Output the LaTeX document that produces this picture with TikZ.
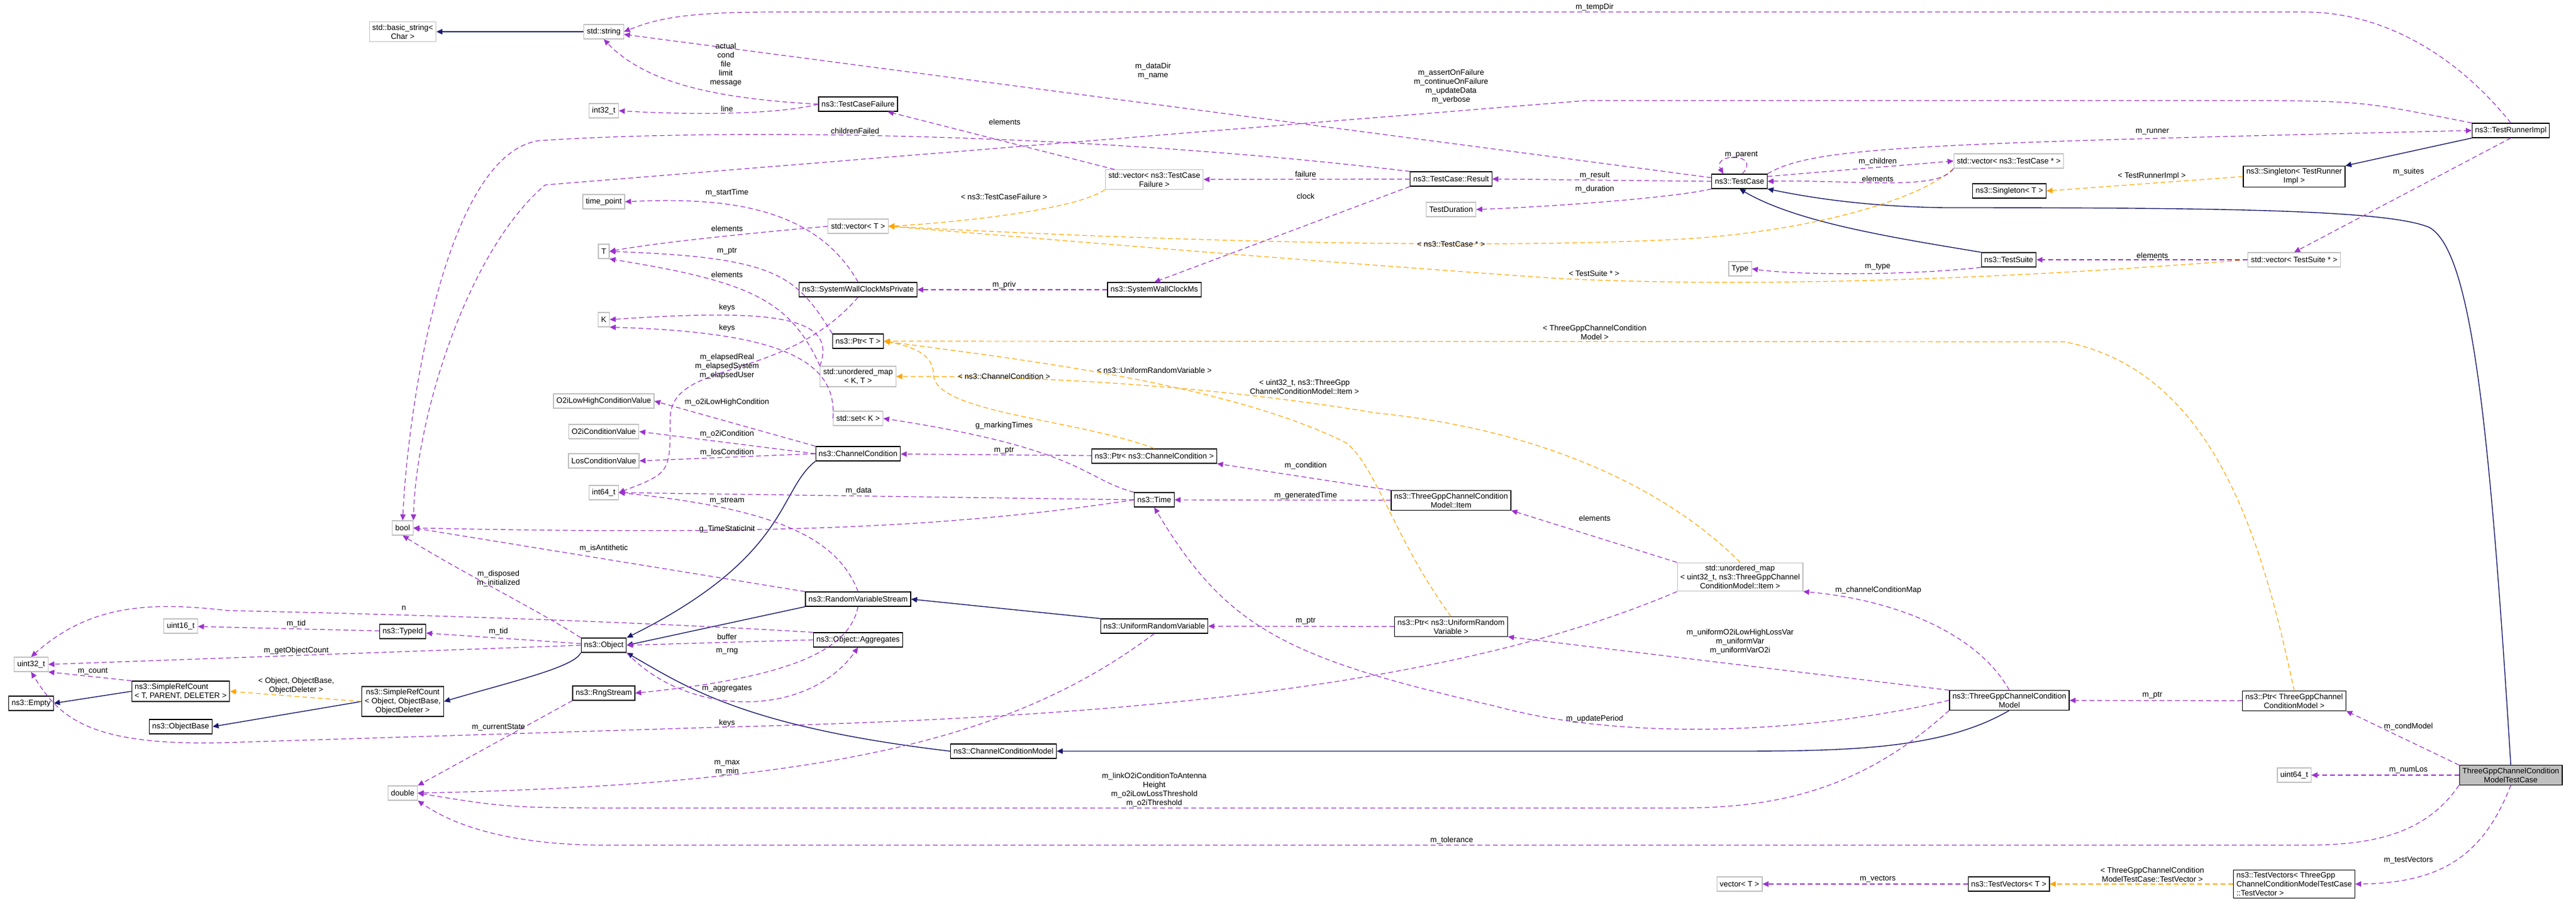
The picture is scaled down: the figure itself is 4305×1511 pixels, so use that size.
\documentclass[tikz,border=0pt]{standalone}
\usepackage{fontspec}
\setmainfont{Liberation Sans}
\usetikzlibrary{arrows.meta}
\definecolor{mem}{HTML}{9A32CD}
\definecolor{tpl}{HTML}{FFA500}
\definecolor{inh}{HTML}{191970}
\definecolor{ext}{HTML}{BFBFBF}
\begin{document}
\begin{tikzpicture}[x=0.5pt,y=-0.5pt,
  font=\fontsize{6.5}{7.5}\selectfont,
  cls/.style={draw=black,line width=0.6pt,fill=white,inner xsep=2.5pt,inner ysep=2pt,minimum height=12pt,align=center},
  extn/.style={cls,draw=ext},
  mainc/.style={cls,fill=ext},
  memb/.style={draw=mem,line width=0.6pt,dash pattern=on 4pt off 2.5pt,-{Triangle[length=5pt,width=4.5pt]}},
  tmpl/.style={draw=tpl,line width=0.6pt,dash pattern=on 4pt off 2.5pt,-{Triangle[length=5pt,width=4.5pt]}},
  inhr/.style={draw=inh,line width=0.7pt,-{Triangle[length=5pt,width=4.5pt]}},
  lbl/.style={inner sep=0pt,align=center}]
\useasboundingbox (0,0) rectangle (4305,1511);
% nodes
\node[extn] (bstr) at (673,53) {std::basic\_string\textless\\Char \textgreater};
\node[extn] (str) at (1009,53) {std::string};
\node[extn] (i32) at (1009,185) {int32\_t};
\node[cls] (tcf) at (1434,174) {ns3::TestCaseFailure};
\node[extn] (tp) at (1009,337) {time\_point};
\node[extn] (T) at (1009,420) {T};
\node[extn] (K) at (1009,534) {K};
\node[cls] (swcmp) at (1434,484) {ns3::SystemWallClockMsPrivate};
\node[cls] (ptrT) at (1434,570) {ns3::Ptr\textless{} T \textgreater};
\node[extn] (umapKT) at (1434,629) {std::unordered\_map\\\textless{} K, T \textgreater};
\node[extn] (setK) at (1434,699) {std::set\textless{} K \textgreater};
\node[extn] (o2ilh) at (1009,670) {O2iLowHighConditionValue};
\node[extn] (o2i) at (1009,721) {O2iConditionValue};
\node[extn] (los) at (1009,770) {LosConditionValue};
\node[cls] (cc) at (1434,758) {ns3::ChannelCondition};
\node[extn] (i64) at (1009,823) {int64\_t};
\node[extn] (bool) at (673,882) {bool};
\node[cls] (rvs) at (1434,1001) {ns3::RandomVariableStream};
\node[cls] (agg) at (1434,1069) {ns3::Object::Aggregates};
\node[cls] (obj) at (1009,1078) {ns3::Object};
\node[extn] (u16) at (302,1046) {uint16\_t};
\node[cls] (tid) at (673,1055) {ns3::TypeId};
\node[extn] (u32) at (52,1110) {uint32\_t};
\node[cls,align=left] (srct) at (302,1155) {ns3::SimpleRefCount\\\textless{} T, PARENT, DELETER \textgreater};
\node[cls] (empty) at (52,1175) {ns3::Empty};
\node[cls] (srco) at (673,1172) {ns3::SimpleRefCount\\\textless{} Object, ObjectBase,\\ObjectDeleter \textgreater};
\node[cls] (obase) at (302,1214) {ns3::ObjectBase};
\node[cls] (rng) at (1009,1158) {ns3::RngStream};
\node[extn] (dbl) at (673,1325) {double};
\node[cls] (ptrcc) at (1929,762) {ns3::Ptr\textless{} ns3::ChannelCondition \textgreater};
\node[cls] (time) at (1929,835) {ns3::Time};
\node[cls] (item) at (2425,836) {ns3::ThreeGppChannelCondition\\Model::Item};
\node[cls] (urv) at (1929,1046) {ns3::UniformRandomVariable};
\node[cls] (ptrurv) at (2425,1047) {ns3::Ptr\textless{} ns3::UniformRandom\\Variable \textgreater};
\node[cls] (ccmod) at (1677,1255) {ns3::ChannelConditionModel};
\node[extn] (umapU) at (2908,964) {std::unordered\_map\\\textless{} uint32\_t, ns3::ThreeGppChannel\\ConditionModel::Item \textgreater};
\node[extn] (vtcf) at (1929,300) {std::vector\textless{} ns3::TestCase\\Failure \textgreater};
\node[extn] (vecT) at (1434,378) {std::vector\textless{} T \textgreater};
\node[cls] (res) at (2425,299) {ns3::TestCase::Result};
\node[extn] (tdur) at (2425,350) {TestDuration};
\node[cls] (swcm) at (1929,484) {ns3::SystemWallClockMs};
\node[cls] (tc) at (2907,303) {ns3::TestCase};
\node[extn] (vtc) at (3357,269) {std::vector\textless{} ns3::TestCase * \textgreater};
\node[cls] (tri) at (4196,218) {ns3::TestRunnerImpl};
\node[cls] (sgtri) at (3834,295) {ns3::Singleton\textless{} TestRunner\\Impl \textgreater};
\node[cls] (sgT) at (3358,319) {ns3::Singleton\textless{} T \textgreater};
\node[extn] (type) at (2908,449) {Type};
\node[cls] (ts) at (3357,434) {ns3::TestSuite};
\node[extn] (vts) at (3834,434) {std::vector\textless{} TestSuite * \textgreater};
\node[cls] (ccm) at (3358,1170) {ns3::ThreeGppChannelCondition\\Model};
\node[cls] (ptr3) at (3834,1171) {ns3::Ptr\textless{} ThreeGppChannel\\ConditionModel \textgreater};
\node[mainc] (tctc) at (4196,1295) {ThreeGppChannelCondition\\ModelTestCase};
\node[extn] (u64) at (3834,1295) {uint64\_t};
\node[extn] (vecT2) at (2907,1477) {vector\textless{} T \textgreater};
\node[cls] (tvT) at (3357,1477) {ns3::TestVectors\textless{} T \textgreater};
\node[cls,align=left] (tv3) at (3834,1477) {ns3::TestVectors\textless{} ThreeGpp\\ChannelConditionModelTestCase\\::TestVector \textgreater};

% inheritance
\draw[inhr] (str) -- (bstr);
\draw[inhr] (cc.south west) .. controls (1300,820) and (1320,930) .. (obj.north east);
\draw[inhr] (rvs.south west) -- (obj.east);
\draw[inhr] (obj.south west) .. controls (960,1115) and (850,1140) .. (srco.east);
\draw[inhr] (srco.west) -- (obase.east);
\draw[inhr] (srct.west) -- (empty.east);
\draw[inhr] (ccmod.west) .. controls (1250,1215) and (1150,1150) .. (obj.south east);
\draw[inhr] (urv.north west) -- (rvs.east);
\draw[inhr] (ccm.south) .. controls (3250,1250) and (3100,1255) .. (2900,1255) -- (ccmod.east);
\draw[inhr] (tri.south west) -- (sgtri.north east);
\draw[inhr] (ts.north west) .. controls (3150,395) and (3000,370) .. (tc.south);
\draw[inhr] (tctc.north) .. controls (4160,700) and (4130,420) .. (4060,380) .. controls (3990,350) and (3700,347) .. (3250,347) .. controls (3100,345) and (3000,325) .. (tc.south east);

% template
\draw[tmpl] (srco.west) -- (srct.east);
\draw[tmpl] (vtcf.south west) .. controls (1800,350) and (1600,372) .. (vecT.east);
\draw[tmpl] (vtc.south west) .. controls (3200,340) and (3000,390) .. (2800,400) .. controls (2400,420) and (1800,395) .. (vecT.east);
\draw[tmpl] (vts.west) .. controls (3300,470) and (2900,480) .. (2600,465) .. controls (2100,430) and (1700,395) .. (vecT.east);
\draw[tmpl] (sgtri.west) -- (sgT.east);
\draw[tmpl] (ptrcc.north) .. controls (1800,700) and (1560,690) .. (1560,625) .. controls (1560,590) and (1520,578) .. (ptrT.east);
\draw[tmpl] (ptrurv.north) .. controls (2330,900) and (2300,780) .. (2250,740) .. controls (2050,640) and (1700,600) .. (ptrT.east);
\draw[tmpl] (ptr3.north) .. controls (3780,900) and (3700,620) .. (3450,571) -- (ptrT.east);
\draw[tmpl] (umapU.north) .. controls (2800,830) and (2600,720) .. (2300,690) .. controls (2000,640) and (1700,628) .. (umapKT.east);
\draw[tmpl] (tv3.west) -- (tvT.east);

% members
\draw[memb] (tri.north) .. controls (4120,110) and (4000,20) .. (3850,20) -- (1300,20) .. controls (1150,20) and (1100,30) .. (str.east);
\draw[memb] (tc) -- (str);
\draw[memb] (tcf.west) .. controls (1200,165) and (1080,140) .. (str.south);
\draw[memb] (tcf.west) .. controls (1300,192) and (1150,192) .. (i32.east);
\draw[memb] (res.north west) .. controls (1800,220) and (1200,215) .. (900,235) .. controls (740,260) and (680,700) .. (bool.north);
\draw[memb] (tri.north west) .. controls (3950,170) .. (3800,168) -- (2650,168) -- (911,309) .. controls (780,420) and (695,700) .. (bool.north east);
\draw[memb] (vtcf) -- (tcf);
\draw[memb] (swcmp.north) .. controls (1360,340) and (1200,330) .. (tp.east);
\draw[memb] (vecT.west) .. controls (1250,390) and (1100,405) .. (T.east);
\draw[memb] (ptrT.north west) .. controls (1330,460) and (1300,430) .. (T.east);
\draw[memb] (umapKT.north west) .. controls (1320,500) and (1250,470) .. (T.south east);
\draw[memb] (umapKT.north west) .. controls (1400,530) and (1300,515) .. (K.east);
\draw[memb] (setK.west) .. controls (1400,600) and (1300,555) .. (K.south east);
\draw[memb] (swcmp.south) .. controls (1310,640) and (1120,600) .. (1120,700) .. controls (1120,790) .. (i64.east);
\draw[memb] (cc.north west) -- (o2ilh.east);
\draw[memb] (cc.west) -- (o2i.east);
\draw[memb] (cc.west) -- (los.east);
\draw[memb] (time.west) -- (i64.east);
\draw[memb] (rvs.north) .. controls (1400,900) and (1300,850) .. (i64.east);
\draw[memb] (time.west) .. controls (1600,880) and (1300,895) .. (bool.east);
\draw[memb] (rvs.north west) -- (bool.east);
\draw[memb] (obj.north west) .. controls (900,1020) and (760,950) .. (bool.south);
\draw[memb] (agg.north west) .. controls (1000,1035) and (600,1025) .. (380,1020) .. controls (250,1005) and (150,1010) .. (u32.north);
\draw[memb] (tid) -- (u16);
\draw[memb] (obj) -- (tid);
\draw[memb] (agg.west) -- (obj.east);
\draw[memb] (obj.west) -- (u32.east);
\draw[memb] (srct.north west) -- (u32.south east);
\draw[memb] (rvs.south) .. controls (1420,1080) and (1340,1130) .. (rng.east);
\draw[memb] (obj.south east) .. controls (1150,1200) and (1350,1200) .. (agg.south);
\draw[memb] (umapU.south west) .. controls (2400,1160) and (1800,1200) .. (1200,1215) -- (400,1240) .. controls (150,1250) and (100,1200) .. (u32.south);
\draw[memb] (rng.south west) -- (dbl.north east);
\draw[memb] (urv.south) .. controls (1700,1230) and (1400,1310) .. (dbl.east);
\draw[memb] (ccm.south west) .. controls (3100,1330) and (2950,1350) .. (2800,1350) -- (1100,1350) .. controls (850,1350) .. (dbl.east);
\draw[memb] (tctc.south west) .. controls (4050,1400) and (3950,1412) .. (3850,1412) -- (1000,1412) .. controls (850,1410) and (760,1380) .. (dbl.south east);
\draw[memb] (res) -- (vtcf);
\draw[memb] (res.south west) -- (swcm.north);
\draw[memb] (swcm) -- (swcmp);
\draw[memb] (tc.west) -- (res.east);
\draw[memb] (tc.south west) .. controls (2800,330) and (2600,345) .. (tdur.east);
\draw[memb] (tc.70) .. controls (2945,255) and (2860,255) .. (tc.155);
\draw[memb] (tc.10) -- (vtc.west);
\draw[memb] (vtc.south west) .. controls (3240,320) and (3100,300) .. (tc.east);
\draw[memb] (tc.north east) .. controls (3030,245) and (3200,240) .. (tri.west);
\draw[memb] (tri.south) -- (vts.north);
\draw[memb] (vts) -- (ts);
\draw[memb] (ts.south west) .. controls (3200,460) and (3000,460) .. (type.east);
\draw[memb] (time.north west) .. controls (1810,800) and (1810,750) .. (setK.east);
\draw[memb] (ptrcc) -- (cc);
\draw[memb] (item.north west) -- (ptrcc.south east);
\draw[memb] (item) -- (time);
\draw[memb] (umapU.north west) -- (item.south east);
\draw[memb] (ptrurv) -- (urv);
\draw[memb] (ccm.north) .. controls (3300,1050) and (3150,1000) .. (umapU.south east);
\draw[memb] (ccm.north west) -- (ptrurv.south east);
\draw[memb] (ccm.west) .. controls (3000,1230) and (2700,1235) .. (2500,1180) .. controls (2150,1100) and (2050,1050) .. (time.south);
\draw[memb] (ptr3) -- (ccm);
\draw[memb] (tctc.north west) -- (ptr3.south east);
\draw[memb] (tctc) -- (u64);
\draw[memb] (tctc.south) .. controls (4150,1430) and (4080,1475) .. (tv3.east);
\draw[memb] (tvT) -- (vecT2);

% labels
\node[lbl] at (2665,12) {m\_tempDir};
\node[lbl] at (1927,119) {m\_dataDir\\m\_name};
\node[lbl] at (1213,108) {actual\\cond\\file\\limit\\message};
\node[lbl] at (1215,182) {line};
\node[lbl] at (1429,219) {childrenFailed};
\node[lbl] at (2425,145) {m\_assertOnFailure\\m\_continueOnFailure\\m\_updateData\\m\_verbose};
\node[lbl] at (1679,204) {elements};
\node[lbl] at (1215,322) {m\_startTime};
\node[lbl] at (1215,382) {elements};
\node[lbl] at (1215,420) {m\_ptr};
\node[lbl] at (1215,459) {elements};
\node[lbl] at (1215,514) {keys};
\node[lbl] at (1215,548) {keys};
\node[lbl] at (1215,612) {m\_elapsedReal\\m\_elapsedSystem\\m\_elapsedUser};
\node[lbl] at (1215,672) {m\_o2iLowHighCondition};
\node[lbl] at (1215,725) {m\_o2iCondition};
\node[lbl] at (1215,756) {m\_losCondition};
\node[lbl] at (1435,820) {m\_data};
\node[lbl] at (1215,837) {m\_stream};
\node[lbl] at (1215,884) {g\_TimeStaticInit};
\node[lbl] at (1009,916) {m\_isAntithetic};
\node[lbl] at (833,967) {m\_disposed\\m\_initialized};
\node[lbl] at (675,1016) {n};
\node[lbl] at (495,1042) {m\_tid};
\node[lbl] at (833,1055) {m\_tid};
\node[lbl] at (1215,1064) {buffer};
\node[lbl] at (1215,1088) {m\_rng};
\node[lbl] at (495,1087) {m\_getObjectCount};
\node[lbl] at (155,1122) {m\_count};
\node[lbl] at (495,1146) {\textless{} Object, ObjectBase,\\ObjectDeleter \textgreater};
\node[lbl] at (1215,1151) {m\_aggregates};
\node[lbl] at (1215,1208) {keys};
\node[lbl] at (833,1215) {m\_currentState};
\node[lbl] at (1215,1283) {m\_max\\m\_min};
\node[lbl] at (1929,1320) {m\_linkO2iConditionToAntenna\\Height\\m\_o2iLowLossThreshold\\m\_o2iThreshold};
\node[lbl] at (2426,1404) {m\_tolerance};
\node[lbl] at (2182,291) {failure};
\node[lbl] at (2182,328) {clock};
\node[lbl] at (1678,329) {\textless{} ns3::TestCaseFailure \textgreater};
\node[lbl] at (2425,408) {\textless{} ns3::TestCase * \textgreater};
\node[lbl] at (2664,457) {\textless{} TestSuite * \textgreater};
\node[lbl] at (1678,476) {m\_priv};
\node[lbl] at (2665,293) {m\_result};
\node[lbl] at (2665,316) {m\_duration};
\node[lbl] at (2665,555) {\textless{} ThreeGppChannelCondition\\Model \textgreater};
\node[lbl] at (1929,619) {\textless{} ns3::UniformRandomVariable \textgreater};
\node[lbl] at (1678,629) {\textless{} ns3::ChannelCondition \textgreater};
\node[lbl] at (2180,646) {\textless{} uint32\_t, ns3::ThreeGpp\\ChannelConditionModel::Item \textgreater};
\node[lbl] at (1678,711) {g\_markingTimes};
\node[lbl] at (1678,753) {m\_ptr};
\node[lbl] at (2182,778) {m\_condition};
\node[lbl] at (2182,828) {m\_generatedTime};
\node[lbl] at (2665,866) {elements};
\node[lbl] at (2182,1038) {m\_ptr};
\node[lbl] at (2665,1201) {m\_updatePeriod};
\node[lbl] at (2908,1072) {m\_uniformO2iLowHighLossVar\\m\_uniformVar\\m\_uniformVarO2i};
\node[lbl] at (3139,986) {m\_channelConditionMap};
\node[lbl] at (3597,220) {m\_runner};
\node[lbl] at (2910,259) {m\_parent};
\node[lbl] at (3138,270) {m\_children};
\node[lbl] at (3138,299) {elements};
\node[lbl] at (3596,294) {\textless{} TestRunnerImpl \textgreater};
\node[lbl] at (4025,287) {m\_suites};
\node[lbl] at (3597,427) {elements};
\node[lbl] at (3138,446) {m\_type};
\node[lbl] at (3597,1162) {m\_ptr};
\node[lbl] at (4025,1214) {m\_condModel};
\node[lbl] at (4025,1286) {m\_numLos};
\node[lbl] at (4025,1437) {m\_testVectors};
\node[lbl] at (3597,1461) {\textless{} ThreeGppChannelCondition\\ModelTestCase::TestVector \textgreater};
\node[lbl] at (3138,1469) {m\_vectors};
\end{tikzpicture}
\end{document}
